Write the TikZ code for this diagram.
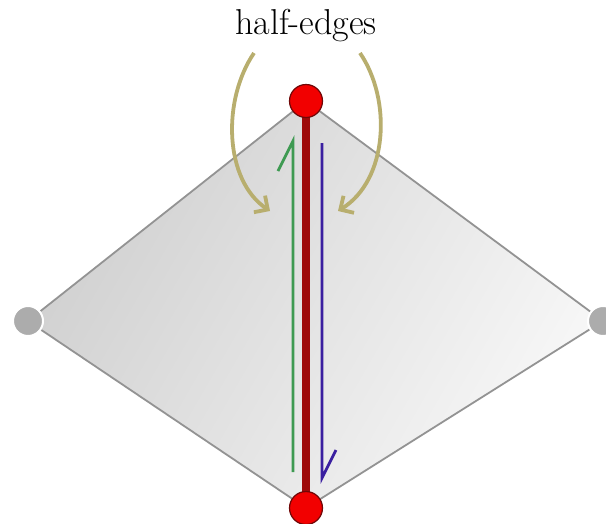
\documentclass[tikz,border=0pt]{standalone}
\usetikzlibrary{arrows.meta}
\definecolor{edgered}{HTML}{9E0A0A}
\definecolor{vertred}{HTML}{F20000}
\definecolor{gold}{HTML}{B8AE6E}
\definecolor{hgreen}{HTML}{3E9A52}
\definecolor{hblue}{HTML}{3A1FA0}
\definecolor{facegray}{HTML}{D0D0D0}
\tikzset{
  face/.style={draw=gray!85, line width=1.8pt, left color=facegray, right color=gray!6, shading angle=60},
  redvert/.style={circle, fill=vertred, draw=edgered!70!black, line width=1.2pt, minimum size=33pt, inner sep=0pt},
  grayvert/.style={circle, fill=gray!65, draw=white, line width=2pt, minimum size=30pt, inner sep=0pt},
  halfedge/.style={line width=2.8pt, line cap=butt, line join=miter},
  curlarrow/.style={gold, line width=3.8pt, -{Straight Barb[length=10pt,width=20pt,line width=3.8pt]}},
}
\begin{document}
\begin{tikzpicture}[x=1pt,y=-1pt]
\useasboundingbox (0,0) rectangle (606,523);
\coordinate (T) at (306,101);
\coordinate (B) at (306,508);
\coordinate (L) at (28,321);
\coordinate (R) at (603,321);
\path[face] (T) -- (R) -- (B) -- (L) -- cycle;
% half-edges
\coordinate (g1) at (293,472);
\coordinate (g2) at (293,141);
\coordinate (g3) at (278,171);
\coordinate (b1) at (322,143);
\coordinate (b2) at (322,478);
\coordinate (b3) at (336,450);
\draw[halfedge, hgreen] (g1) -- (g2) -- (g3);
\draw[halfedge, hblue] (b1) -- (b2) -- (b3);
% full edge
\draw[edgered, line width=8.5pt] (T) -- (B);
\node[redvert] (tv) at (T) {};
\node[redvert] (bv) at (B) {};
\node[grayvert] (lv) at (L) {};
\node[grayvert] (rv) at (R) {};
% label and curved arrows
\node[font=\fontsize{36}{40}\selectfont] (lab) at (306,26) {half-edges};
\coordinate (la) at (254,53);
\coordinate (lb) at (270,211);
\coordinate (ra) at (360,53);
\coordinate (rb) at (338,211);
\draw[curlarrow] (la) .. controls (222,100) and (224,180) .. (lb);
\draw[curlarrow] (ra) .. controls (392,100) and (388,180) .. (rb);
\end{tikzpicture}
\end{document}
